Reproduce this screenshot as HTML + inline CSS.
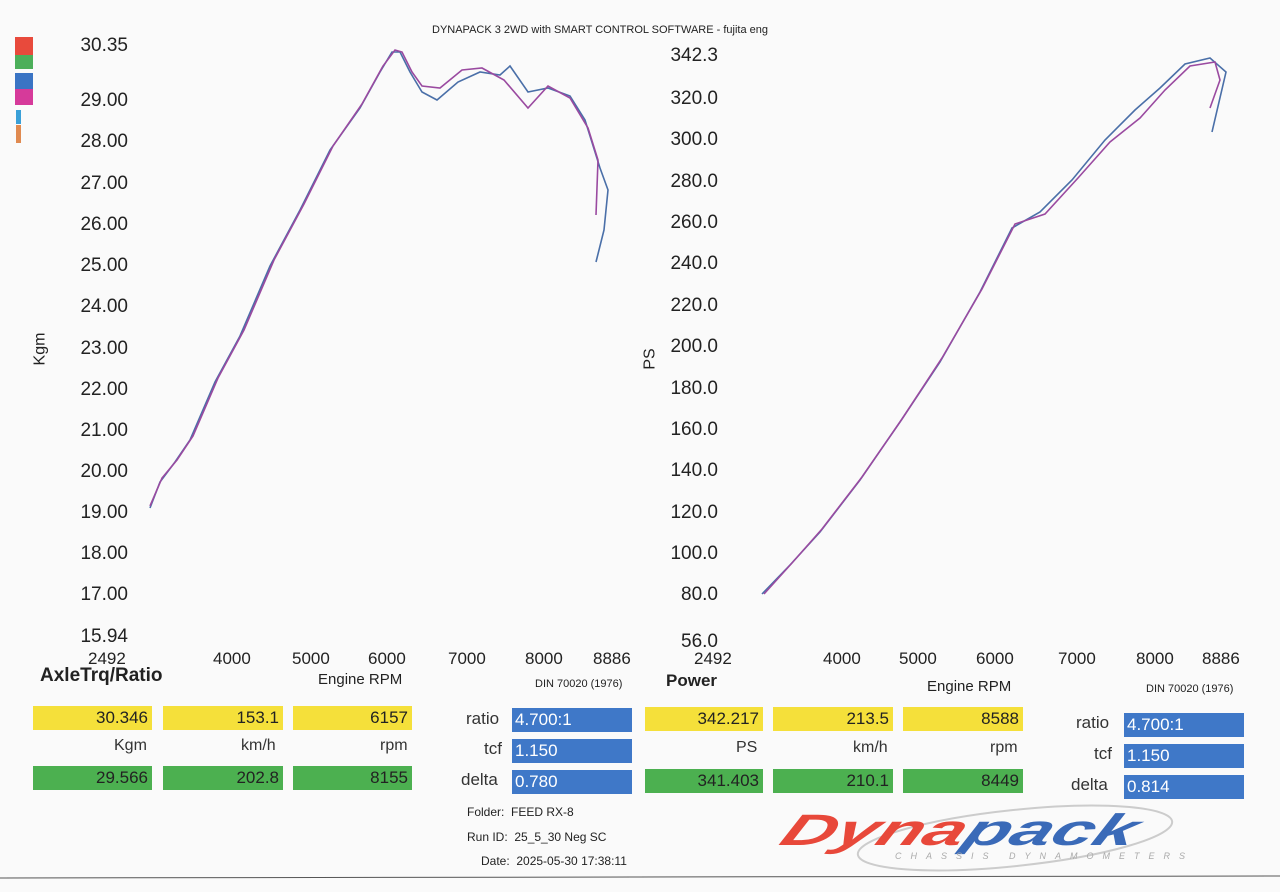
<!DOCTYPE html><html><head><style>
body{margin:0;width:1280px;height:892px;background:#fafafa;font-family:"Liberation Sans",sans-serif;position:relative;overflow:hidden;color:#222}
.a{position:absolute;white-space:nowrap}
.yl{position:absolute;font-size:19px;text-align:right;width:100px}
.xl{position:absolute;font-size:17px}
.b{position:absolute;height:24px;font-size:17px;text-align:right;padding-right:4px;box-sizing:border-box;line-height:24px}
.y{background:#f5e03a}.g{background:#4cb050}.bl{background:#3f78c8;color:#fff;text-align:left;padding-left:3px}
.lab{position:absolute;font-size:16px;color:#333}
</style></head><body>
<div class="a" style="left:432px;top:24px;font-size:11px">DYNAPACK 3 2WD with SMART CONTROL SOFTWARE - fujita eng</div>
<div style="position:absolute;left:15px;top:37px;width:18px;height:18px;background:#e84a3c"></div>
<div style="position:absolute;left:15px;top:55px;width:18px;height:14px;background:#4caf5a"></div>
<div style="position:absolute;left:15px;top:73px;width:18px;height:16px;background:#3a74c4"></div>
<div style="position:absolute;left:15px;top:89px;width:18px;height:16px;background:#d63a9a"></div>
<div style="position:absolute;left:16px;top:110px;width:5px;height:14px;background:#3aa0d8"></div>
<div style="position:absolute;left:16px;top:125px;width:5px;height:18px;background:#e08a50"></div>
<div class="yl" style="left:28px;top:35px">30.35</div>
<div class="yl" style="left:28px;top:90px">29.00</div>
<div class="yl" style="left:28px;top:131px">28.00</div>
<div class="yl" style="left:28px;top:173px">27.00</div>
<div class="yl" style="left:28px;top:214px">26.00</div>
<div class="yl" style="left:28px;top:255px">25.00</div>
<div class="yl" style="left:28px;top:296px">24.00</div>
<div class="yl" style="left:28px;top:338px">23.00</div>
<div class="yl" style="left:28px;top:379px">22.00</div>
<div class="yl" style="left:28px;top:420px">21.00</div>
<div class="yl" style="left:28px;top:461px">20.00</div>
<div class="yl" style="left:28px;top:502px">19.00</div>
<div class="yl" style="left:28px;top:543px">18.00</div>
<div class="yl" style="left:28px;top:584px">17.00</div>
<div class="yl" style="left:28px;top:626px">15.94</div>
<div class="a" style="left:24px;top:340px;font-size:16px;transform:rotate(-90deg)">Kgm</div>
<div class="xl" style="left:88px;top:649px">2492</div>
<div class="xl" style="left:213px;top:649px">4000</div>
<div class="xl" style="left:292px;top:649px">5000</div>
<div class="xl" style="left:368px;top:649px">6000</div>
<div class="xl" style="left:448px;top:649px">7000</div>
<div class="xl" style="left:525px;top:649px">8000</div>
<div class="xl" style="left:593px;top:649px">8886</div>
<div class="a" style="left:40px;top:665px;font-size:19px;font-weight:bold">AxleTrq/Ratio</div>
<div class="a" style="left:318px;top:671px;font-size:15px">Engine RPM</div>
<div class="a" style="left:535px;top:678px;font-size:11px">DIN 70020 (1976)</div>

<div class="yl" style="left:618px;top:45px">342.3</div>
<div class="yl" style="left:618px;top:88px">320.0</div>
<div class="yl" style="left:618px;top:129px">300.0</div>
<div class="yl" style="left:618px;top:171px">280.0</div>
<div class="yl" style="left:618px;top:212px">260.0</div>
<div class="yl" style="left:618px;top:253px">240.0</div>
<div class="yl" style="left:618px;top:295px">220.0</div>
<div class="yl" style="left:618px;top:336px">200.0</div>
<div class="yl" style="left:618px;top:378px">180.0</div>
<div class="yl" style="left:618px;top:419px">160.0</div>
<div class="yl" style="left:618px;top:460px">140.0</div>
<div class="yl" style="left:618px;top:502px">120.0</div>
<div class="yl" style="left:618px;top:543px">100.0</div>
<div class="yl" style="left:618px;top:584px">80.0</div>
<div class="yl" style="left:618px;top:631px">56.0</div>
<div class="a" style="left:640px;top:350px;font-size:16px;transform:rotate(-90deg)">PS</div>
<div class="xl" style="left:694px;top:649px">2492</div>
<div class="xl" style="left:823px;top:649px">4000</div>
<div class="xl" style="left:899px;top:649px">5000</div>
<div class="xl" style="left:976px;top:649px">6000</div>
<div class="xl" style="left:1058px;top:649px">7000</div>
<div class="xl" style="left:1136px;top:649px">8000</div>
<div class="xl" style="left:1202px;top:649px">8886</div>
<div class="a" style="left:666px;top:671px;font-size:17px;font-weight:bold">Power</div>
<div class="a" style="left:927px;top:678px;font-size:15px">Engine RPM</div>
<div class="a" style="left:1146px;top:683px;font-size:11px">DIN 70020 (1976)</div>

<svg class="a" style="left:0;top:0" width="1280" height="892">
<g fill="none" stroke-width="1.6">
<path stroke="#4a6fa8" d="M150,508 L160,482 175,462 190,440 215,382 240,336 270,266 300,210 330,150 360,108 380,72 392,52 400,52 410,72 422,92 437,100 458,82 480,72 500,75 510,66 528,92 548,88 570,96 585,120 600,168 608,190 604,230 596,262"/>
<path stroke="#9a4aa0" d="M150,506 L162,478 177,460 193,436 218,378 244,330 274,260 304,204 333,146 362,104 383,66 395,50 402,52 412,72 422,86 440,88 462,70 482,68 504,80 528,108 548,86 570,98 588,128 598,160 596,215"/>
<path stroke="#4a6fa8" d="M762,594 L790,565 820,532 860,480 900,422 940,362 980,292 1012,228 1040,212 1072,180 1105,140 1135,110 1160,88 1185,64 1210,58 1226,72 1212,132"/>
<path stroke="#9a4aa0" d="M764,594 L792,563 822,529 862,477 902,419 942,358 982,289 1015,224 1045,214 1078,178 1110,142 1140,118 1165,90 1190,66 1215,62 1220,80 1210,108"/>
</g>
<ellipse cx="1015" cy="838" rx="158" ry="28" fill="none" stroke="#ccc" stroke-width="2" transform="rotate(-6 1015 838)"/>
<line x1="0" y1="878" x2="1280" y2="876" stroke="#555" stroke-width="1"/>
</svg>

<div class="b y" style="left:33px;top:706px;width:119px">30.346</div>
<div class="b y" style="left:163px;top:706px;width:120px">153.1</div>
<div class="b y" style="left:293px;top:706px;width:119px">6157</div>
<div class="lab" style="left:114px;top:737px">Kgm</div>
<div class="lab" style="left:241px;top:737px">km/h</div>
<div class="lab" style="left:380px;top:737px">rpm</div>
<div class="b g" style="left:33px;top:766px;width:119px">29.566</div>
<div class="b g" style="left:163px;top:766px;width:120px">202.8</div>
<div class="b g" style="left:293px;top:766px;width:119px">8155</div>
<div class="lab" style="left:466px;top:709px;font-size:17px">ratio</div>
<div class="lab" style="left:484px;top:739px;font-size:17px">tcf</div>
<div class="lab" style="left:461px;top:770px;font-size:17px">delta</div>
<div class="b bl" style="left:512px;top:708px;width:120px">4.700:1</div>
<div class="b bl" style="left:512px;top:739px;width:120px">1.150</div>
<div class="b bl" style="left:512px;top:770px;width:120px">0.780</div>

<div class="b y" style="left:645px;top:707px;width:118px">342.217</div>
<div class="b y" style="left:773px;top:707px;width:120px">213.5</div>
<div class="b y" style="left:903px;top:707px;width:120px">8588</div>
<div class="lab" style="left:736px;top:739px">PS</div>
<div class="lab" style="left:853px;top:739px">km/h</div>
<div class="lab" style="left:990px;top:739px">rpm</div>
<div class="b g" style="left:645px;top:769px;width:118px">341.403</div>
<div class="b g" style="left:773px;top:769px;width:120px">210.1</div>
<div class="b g" style="left:903px;top:769px;width:120px">8449</div>
<div class="lab" style="left:1076px;top:713px;font-size:17px">ratio</div>
<div class="lab" style="left:1094px;top:744px;font-size:17px">tcf</div>
<div class="lab" style="left:1071px;top:775px;font-size:17px">delta</div>
<div class="b bl" style="left:1124px;top:713px;width:120px">4.700:1</div>
<div class="b bl" style="left:1124px;top:744px;width:120px">1.150</div>
<div class="b bl" style="left:1124px;top:775px;width:120px">0.814</div>

<div class="a" style="left:467px;top:805px;font-size:12px">Folder:&nbsp; FEED RX-8</div>
<div class="a" style="left:467px;top:830px;font-size:12px">Run ID:&nbsp; 25_5_30 Neg SC</div>
<div class="a" style="left:481px;top:854px;font-size:12px">Date:&nbsp; 2025-05-30 17:38:11</div>
<div class="a" style="left:795px;top:806px;font-size:44px;font-weight:900;font-style:italic;transform-origin:0 0;transform:scaleX(1.7) skewX(-15deg)"><span style="color:#e8483a">Dyna</span><span style="color:#3a6ab8">pack</span></div>
<div class="a" style="left:895px;top:851px;font-size:9px;color:#aaa;letter-spacing:9px;font-style:italic">CHASSIS DYNAMOMETERS</div>
</body></html>
